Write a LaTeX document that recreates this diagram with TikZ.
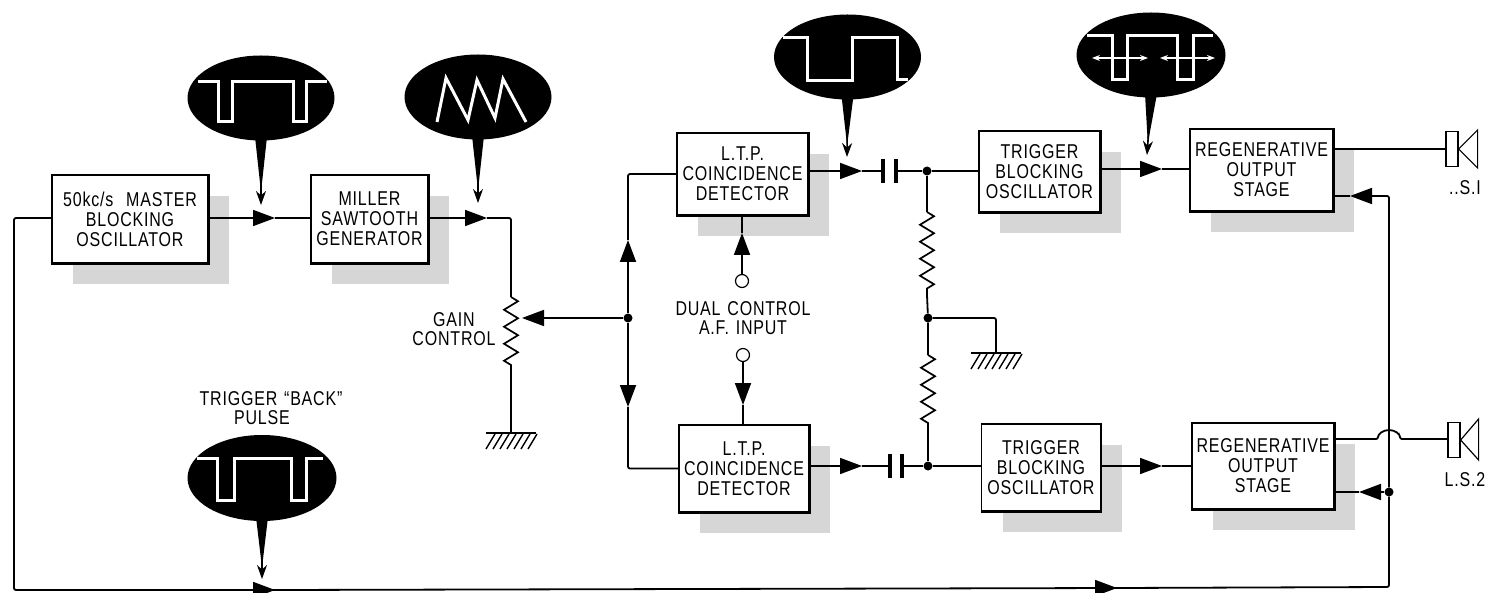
\documentclass[tikz,border=0pt]{standalone}
\usepackage{fontspec}
\newfontfamily\labelfont[FakeStretch=0.8,LetterSpace=4,WordSpace=1.3]{Liberation Sans}
\usetikzlibrary{arrows.meta,calc,decorations.pathmorphing,positioning,shadows,shapes.geometric}
\newcommand{\balloontail}[2]{%
  \fill ($(#1.south)+(-6,-4)$) -- ($(#1.south)+(6,-4)$) -- ($(#1.south)!0.8!(#2)$) -- cycle;
  \draw[probe] (#1.south) -- (#2);}
\newcommand{\earth}[1]{%
  \draw[heavy] ($(#1)+(-25,0)$) -- ($(#1)+(25,0)$);
  \foreach \dx in {-16,-9,-2,5,12,19,26} \draw[hatch] ($(#1)+(\dx,1)$) -- ++(-9,15);}
\tikzset{
  unit/.style={draw, fill=white, line width=1.2pt, align=center, inner sep=0pt, font=\labelfont\fontsize{20}{20}\selectfont,
    general shadow={fill=gray!32, shadow xshift=21pt, shadow yshift=-21pt}},
  balloon/.style={ellipse, fill=black, inner sep=0pt},
  trace/.style={draw=white, line width=3pt, line join=miter},
  doublehead/.style={draw=white, line width=1.4pt, {Stealth[length=8pt]}-{Stealth[length=8pt]}},
  caption/.style={align=center, inner sep=0pt, font=\labelfont\fontsize{20}{19}\selectfont},
  dot/.style={circle, fill=black, inner sep=0pt, minimum size=9pt},
  terminal/.style={circle, draw, line width=1.2pt, fill=white, inner sep=0pt, minimum size=13pt},
  cone/.style={draw, line width=1.2pt, fill=white, inner sep=0pt},
  wire/.style={line width=1.8pt, rounded corners=2pt},
  heavy/.style={line width=2.6pt},
  hatch/.style={line width=1.4pt},
  flow/.style={wire, -{Triangle[length=22pt,width=16pt]}},
  probe/.style={line width=1.6pt, -{Stealth[length=14pt,width=10pt]}},
  zig/.style={line width=1.7pt, decorate, decoration={zigzag, amplitude=7pt, segment length=17pt}},
  plate/.style={line width=3.6pt}
}
\begin{document}
\begin{tikzpicture}[x=1pt,y=-1pt]
  \useasboundingbox (0,0) rectangle (1488,593);
  % blocks
  \node[unit, minimum width=156pt, minimum height=88pt] (master) at (130,219) {50kc/s\hspace{6pt} MASTER\\BLOCKING\\OSCILLATOR};
  \node[unit, minimum width=117pt, minimum height=88pt] (miller) at (369.5,219) {MILLER\\SAWTOOTH\\GENERATOR};
  \node[unit, minimum width=131pt, minimum height=82pt] (ltp1) at (742.5,174) {L.T.P.\\COINCIDENCE\\DETECTOR};
  \node[unit, minimum width=130pt, minimum height=87pt] (ltp2) at (744,468.5) {L.T.P.\\COINCIDENCE\\DETECTOR};
  \node[unit, minimum width=121pt, minimum height=81pt] (trig1) at (1039.5,171.5) {TRIGGER\\BLOCKING\\OSCILLATOR};
  \node[unit, minimum width=119pt, minimum height=87pt] (trig2) at (1041,467.5) {TRIGGER\\BLOCKING\\OSCILLATOR};
  \node[unit, minimum width=143pt, minimum height=82pt] (reg1) at (1261.5,170) {REGENERATIVE\\OUTPUT\\STAGE};
  \node[unit, minimum width=142pt, minimum height=86pt] (reg2) at (1263,466) {REGENERATIVE\\OUTPUT\\STAGE};
  \foreach \blk in {master,miller,ltp1,ltp2,trig1,trig2,reg1,reg2}
    \draw[heavy] (\blk.north east) -- (\blk.south east) -- (\blk.south west);

  % balloons
  \node[balloon, minimum width=147pt, minimum height=85pt] (bal1) at (261,98) {};
  \node[balloon, minimum width=147pt, minimum height=85pt] (bal2) at (478,97) {};
  \node[balloon, minimum width=147pt, minimum height=85pt] (bal3) at (847.5,57) {};
  \node[balloon, minimum width=149pt, minimum height=85pt] (bal4) at (1151,55) {};
  \node[balloon, minimum width=149pt, minimum height=86pt] (bal5) at (262,478) {};
  \draw[trace] (198,82) -- (218,82) -- (218,122) -- (232,122) -- (232,82) -- (293,82) -- (293,122) -- (306,122) -- (306,82) -- (327,82);
  \draw[trace] (437,122) -- (446,78) -- (468,120) -- (477,80) -- (495,118) -- (503,79) -- (526,122);
  \draw[trace] (783,38) -- (807,38) -- (807,81) -- (852,81) -- (852,38) -- (897,38) -- (897,80) -- (908,80);
  \draw[trace] (1087,36) -- (1112,36) -- (1112,80) -- (1127,80) -- (1127,36) -- (1177,36) -- (1177,80) -- (1193,80) -- (1193,36) -- (1213,36);
  \draw[doublehead] (1092,58) -- (1148,58);
  \draw[doublehead] (1160,58) -- (1215,58);
  \draw[trace] (197,458) -- (217,458) -- (217,500) -- (234,500) -- (234,458) -- (291,458) -- (291,500) -- (306,500) -- (306,458) -- (323,458);
  \coordinate (tip1) at (261,205);
  \coordinate (tip2) at (478,203);
  \coordinate (tip3) at (847,157);
  \coordinate (tip4) at (1147,155);
  \coordinate (tip5) at (262,579);
  \balloontail{bal1}{tip1}
  \balloontail{bal2}{tip2}
  \balloontail{bal3}{tip3}
  \balloontail{bal4}{tip4}
  \balloontail{bal5}{tip5}
  \node[caption] (backlabel) at (271,408) {TRIGGER “BACK”\\PULSE\hspace*{18pt}};

  % gain control
  \coordinate (pota) at (511,297);
  \coordinate (potb) at (511,368);
  \coordinate (potm) at (522,318);
  \coordinate (earth1) at (511,433);
  \node[dot] (busdot) at (628,318) {};
  \draw[flow] (master.east |- 0,218) -- (275,218);
  \draw[wire] (275,218) -- (miller.west |- 0,218);
  \draw[flow] (miller.east |- 0,218) -- (487,218);
  \draw[wire] (487,218) -- (511,218) -- (pota);
  \draw[zig] (pota) -- (potb);
  \draw[wire] (potb) -- (earth1);
  \earth{earth1}
  \draw[flow] (busdot) -- (potm);
  \node[caption] (gain) at (454,329) {GAIN\\CONTROL};

  % detector feeds
  \coordinate (busup) at (628,240);
  \coordinate (busdown) at (628,407);
  \draw[wire] (ltp1.west) -| (busup);
  \draw[flow] (busdot) -- (busup);
  \draw[flow] (busdot) -- (busdown);
  \draw[wire] (busdown) |- (ltp2.west);
  \node[terminal] (af1) at (742,281) {};
  \node[terminal] (af2) at (743,355) {};
  \coordinate (aftip1) at (742,233);
  \coordinate (aftip2) at (743,405);
  \draw[flow] (af1) -- (aftip1);
  \draw[heavy] (aftip1) -- (ltp1.south -| aftip1);
  \draw[flow] (af2) -- (aftip2);
  \draw[wire] (aftip2) -- (ltp2.north -| aftip2);
  \node[caption] (dual) at (743,318) {DUAL CONTROL\\A.F. INPUT};

  % capacitors and divider
  \node[dot] (join1) at (927,171) {};
  \node[dot] (join2) at (928,466) {};
  \node[dot] (join3) at (928,318) {};
  \coordinate (capa1) at (883,171);
  \coordinate (capb1) at (896,171);
  \coordinate (capa2) at (890,466);
  \coordinate (capb2) at (902,466);
  \draw[flow] (ltp1.east |- capa1) -- (862,171);
  \draw[wire] (862,171) -- (capa1);
  \draw[plate] ($(capa1)+(0,-12)$) -- ($(capa1)+(0,12)$);
  \draw[plate] ($(capb1)+(0,-12)$) -- ($(capb1)+(0,12)$);
  \draw[wire] (capb1) -- (join1) -- (trig1.west |- join1);
  \draw[flow] (ltp2.east |- capa2) -- (862,466);
  \draw[wire] (862,466) -- (capa2);
  \draw[plate] ($(capa2)+(0,-12)$) -- ($(capa2)+(0,12)$);
  \draw[plate] ($(capb2)+(0,-12)$) -- ($(capb2)+(0,12)$);
  \draw[wire] (capb2) -- (join2) -- (trig2.west |- join2);
  \coordinate (ra1) at (927,212);
  \coordinate (rb1) at (927,295);
  \coordinate (ra2) at (928,355);
  \coordinate (rb2) at (928,428);
  \coordinate (earth2) at (996,353);
  \draw[wire] (join1) -- (ra1);
  \draw[zig] (ra1) -- (rb1);
  \draw[wire] (rb1) -- (join3) -- (ra2);
  \draw[zig] (ra2) -- (rb2);
  \draw[wire] (rb2) -- (join2);
  \draw[wire] (join3) -| (earth2);
  \earth{earth2}

  % outputs
  \draw[flow] (trig1.east |- 0,169) -- (1162,169);
  \draw[wire] (1162,169) -- (reg1.west |- 0,169);
  \draw[flow] (trig2.east |- 0,466) -- (1162,466);
  \draw[wire] (1162,466) -- (reg2.west);

  % speakers
  \node[cone, minimum width=12pt, minimum height=35pt] (spk1) at (1452,149) {};
  \node[cone, minimum width=12pt, minimum height=35pt] (spk2) at (1454,440) {};
  \draw[line width=1.2pt] (spk1.east) -- ++(19,-19) -- ++(0,38) -- cycle;
  \draw[line width=1.2pt] (spk2.east) -- ++(18,-21) -- ++(0,41) -- cycle;
  \node[caption] (ls1) at (1465,188) {..S.I};
  \node[caption] (ls2) at (1465,480) {L.S.2};
  \draw[wire] (reg1.east |- spk1) -- (spk1.west);
  \coordinate (hopa) at (1378,439);
  \coordinate (hopb) at (1400,439);
  \draw[wire] (reg2.east |- hopa) -- (hopa) arc[start angle=180, end angle=360, x radius=11, y radius=9] -- (hopb) -- (spk2.west |- hopb);

  % back pulse line
  \node[dot] (join4) at (1389,492) {};
  \coordinate (backtip1) at (1350,196);
  \coordinate (backtip2) at (1359,492);
  \coordinate (loop1) at (14,590);
  \coordinate (loop2) at (1389,587);
  \draw[wire] (master.west |- 0,218) -| (loop1) -- (275,590);
  \draw[wire] (275,590) -- (1117,588);
  \draw[wire] (1117,588) -- (loop2) -- (join4);
  \draw[flow] (253,590) -- (275,590);
  \draw[flow] (1095,588) -- (1117,588);
  \draw[flow] (join4) |- (backtip1);
  \draw[flow] (join4) -- (backtip2);
  \draw[heavy] (backtip2) -- (reg2.east |- backtip2);
  \draw[heavy] (backtip1) -- (reg1.east |- backtip1);
\end{tikzpicture}
\end{document}
